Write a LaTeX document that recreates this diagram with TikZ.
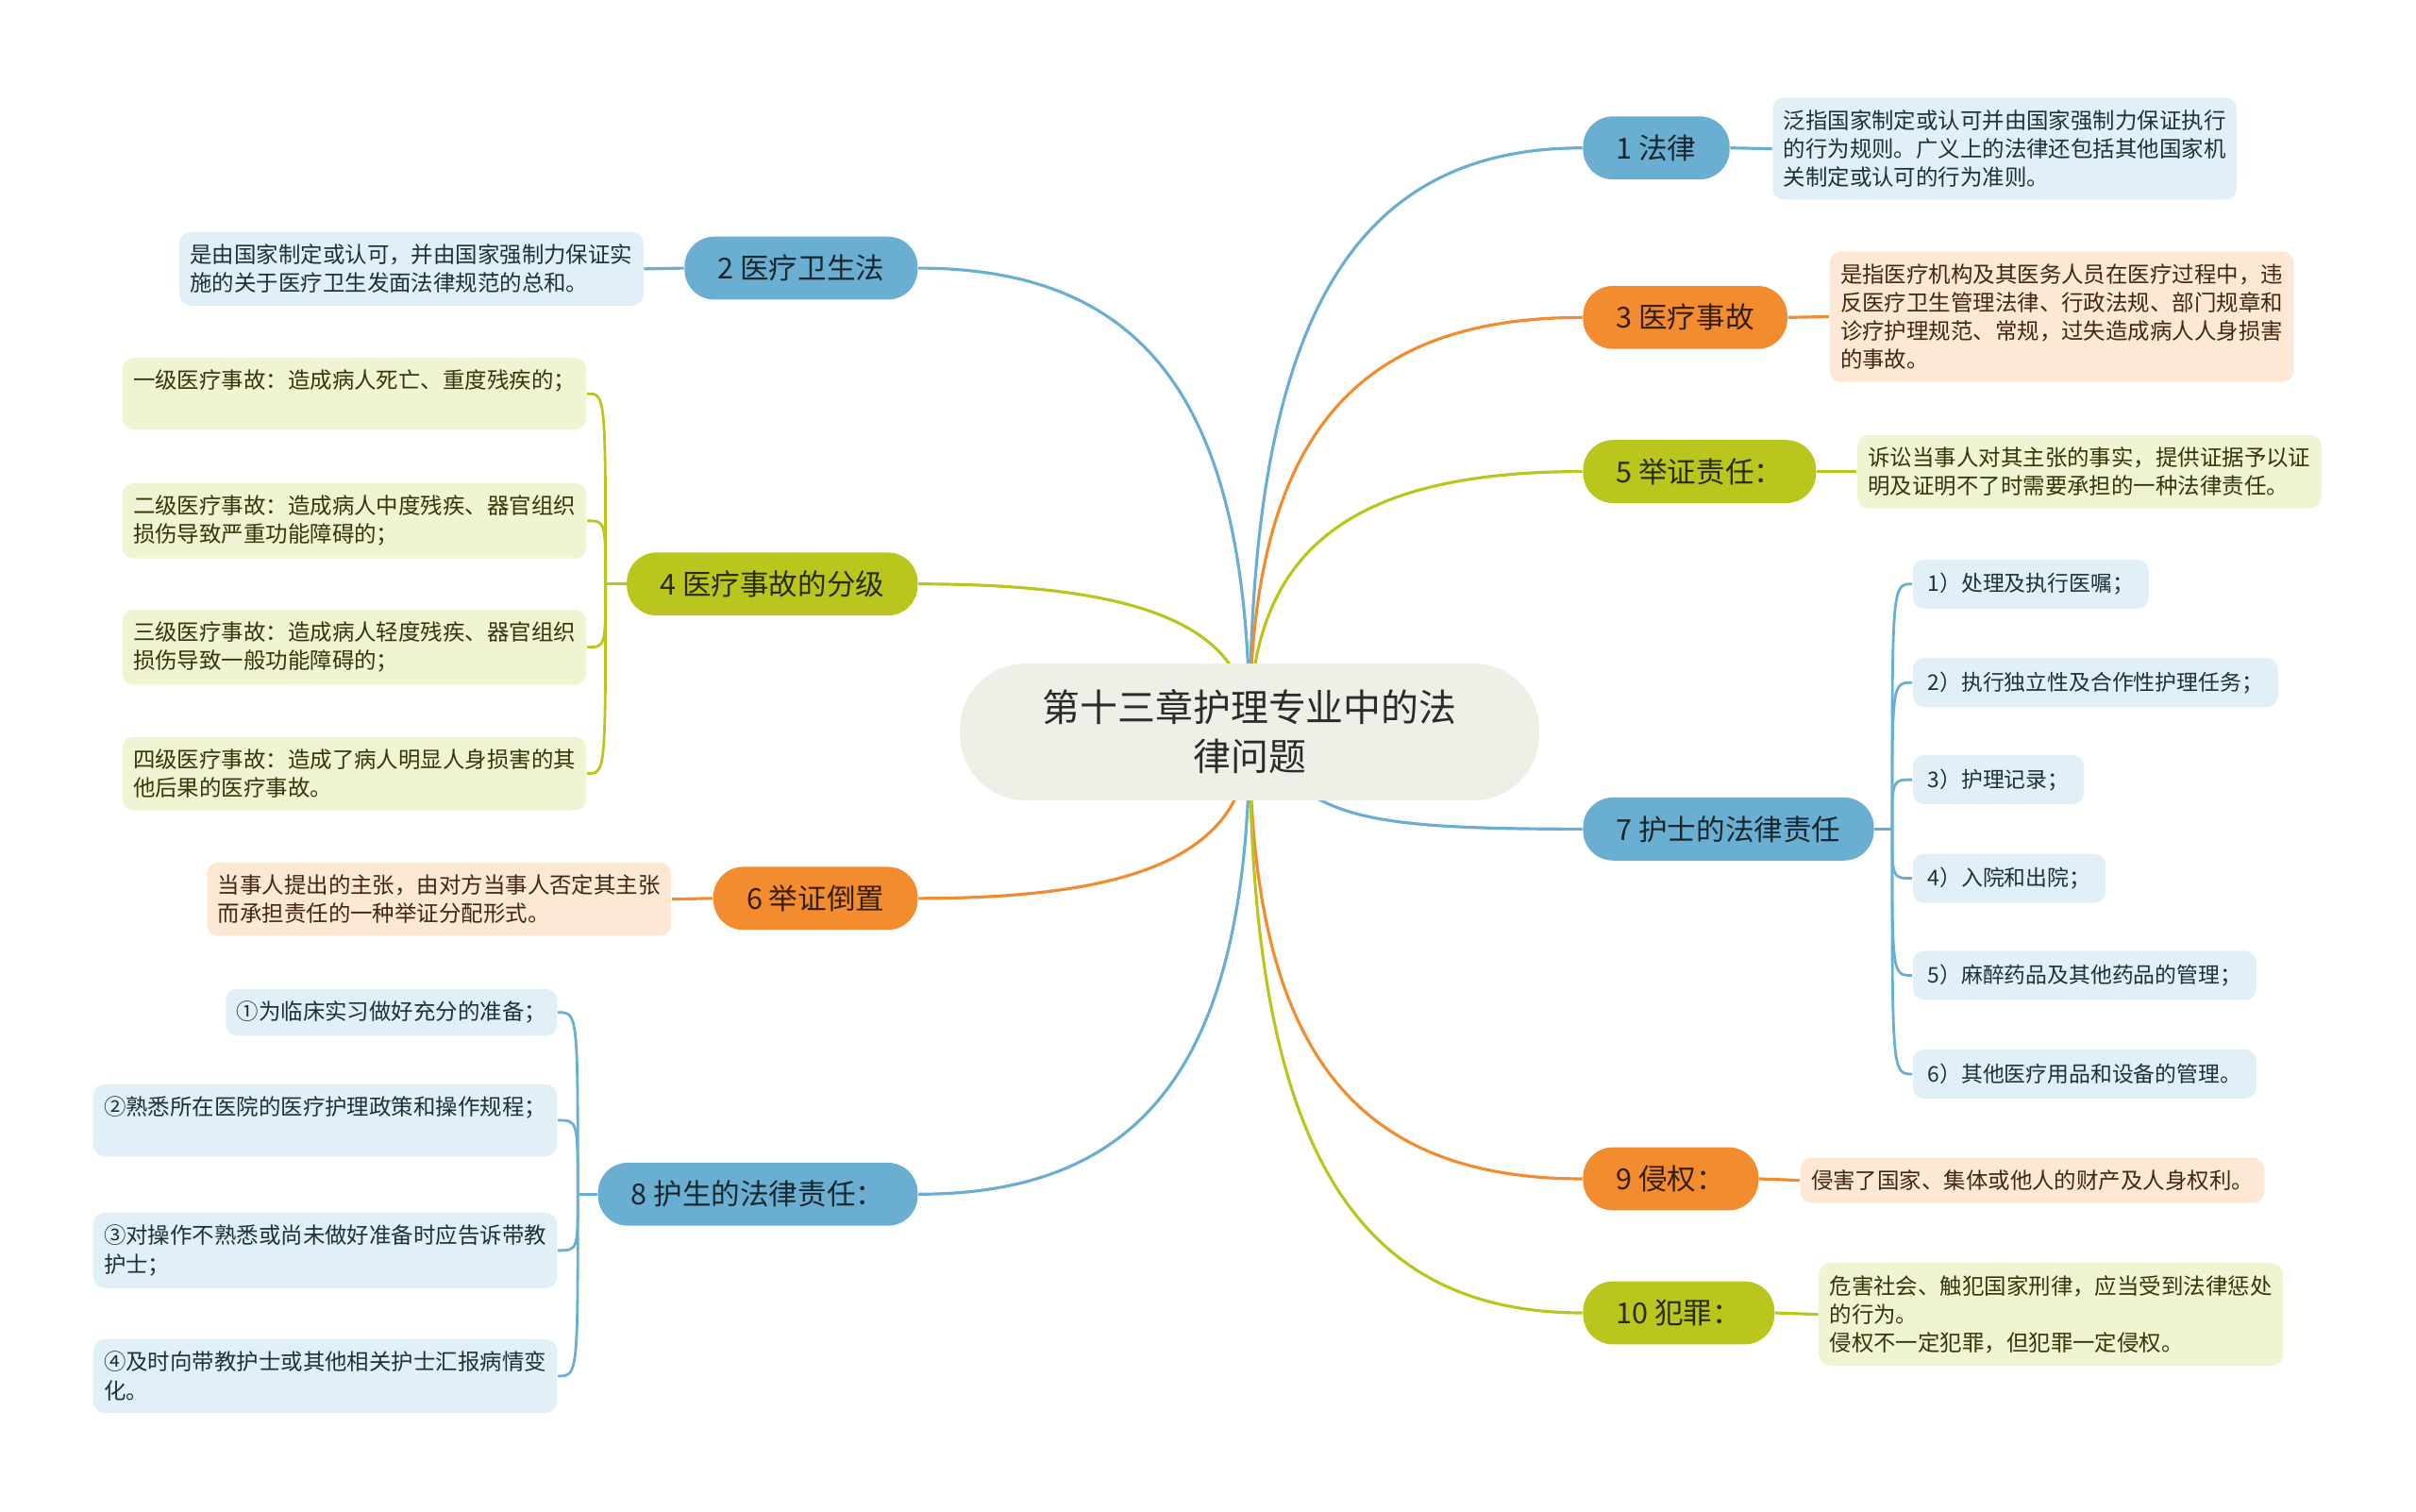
\documentclass[tikz,border=0pt]{standalone}
\usepackage{fontspec}
\setmainfont{Noto Sans CJK SC}
\usetikzlibrary{backgrounds}
\definecolor{sky}{HTML}{6AAFD2}
\definecolor{amber}{HTML}{F28C2E}
\definecolor{lime}{HTML}{BAC61E}
\definecolor{hubfill}{HTML}{EFEFE7}
\definecolor{ink}{HTML}{2B2B2B}
\tikzset{
  hub/.style={fill=hubfill,rounded corners=7mm,minimum width=61.4mm,minimum height=14.5mm,align=center,font=\fontsize{11.35}{14.8}\selectfont,text=ink},
  topic/.style={fill=#1,rounded corners=9pt,minimum height=19pt,inner xsep=10pt,inner ysep=0pt,font=\fontsize{8.7}{10}\selectfont,text=#1!22!black},
  memo/.style={fill=#1!20,rounded corners=1.2mm,inner xsep=3.25pt,inner ysep=3.7pt,align=left,font=\fontsize{6.67}{8.6}\selectfont,text=#1!28!black},
  leaf/.style={fill=#1!20,rounded corners=1.2mm,minimum height=14.8pt,inner xsep=4.5pt,inner ysep=0pt,font=\fontsize{6.5}{8}\selectfont,text=#1!28!black},
  link/.style={draw=#1,line width=0.9pt},
  twig/.style={draw=#1,line width=0.8pt}
}
\begin{document}
\begin{tikzpicture}[x=0.16327mm,y=-0.16327mm]
  \useasboundingbox (0,0) rectangle (1568,981);
  \node[hub] (c) at (811,475) {第十三章护理专业中的法\\律问题};

  \node[topic=sky,anchor=west] (n1) at (1027,96) {1 法律};
  \node[topic=amber,anchor=west] (n3) at (1027,206) {3 医疗事故};
  \node[topic=lime,anchor=west] (n5) at (1027,306) {5 举证责任：};
  \node[topic=sky,anchor=west] (n7) at (1027,538) {7 护士的法律责任};
  \node[topic=amber,anchor=west] (n9) at (1027,765) {9 侵权：};
  \node[topic=lime,anchor=west] (n10) at (1027,852) {10 犯罪：};
  \node[topic=sky,anchor=east] (n2) at (596,174) {2 医疗卫生法};
  \node[topic=lime,anchor=east] (n4) at (596,379) {4 医疗事故的分级};
  \node[topic=amber,anchor=east] (n6) at (596,583) {6 举证倒置};
  \node[topic=sky,anchor=east] (n8) at (596,775) {8 护生的法律责任：};

  \node[memo=sky,anchor=west] (d1) at (1150,96.5) {泛指国家制定或认可并由国家强制力保证执行\\的行为规则。广义上的法律还包括其他国家机\\关制定或认可的行为准则。};
  \node[memo=amber,anchor=west] (d3) at (1187,205.5) {是指医疗机构及其医务人员在医疗过程中，违\\反医疗卫生管理法律、行政法规、部门规章和\\诊疗护理规范、常规，过失造成病人人身损害\\的事故。};
  \node[memo=lime,anchor=west] (d5) at (1205,306) {诉讼当事人对其主张的事实，提供证据予以证\\明及证明不了时需要承担的一种法律责任。};
  \node[memo=amber,anchor=west] (d9) at (1168,766) {侵害了国家、集体或他人的财产及人身权利。};
  \node[memo=lime,anchor=west] (d10) at (1180,853) {危害社会、触犯国家刑律，应当受到法律惩处\\的行为。\\侵权不一定犯罪，但犯罪一定侵权。};
  \node[memo=sky,anchor=east] (d2) at (418,174.5) {是由国家制定或认可，并由国家强制力保证实\\施的关于医疗卫生发面法律规范的总和。};
  \node[memo=amber,anchor=east] (d6) at (436,583.5) {当事人提出的主张，由对方当事人否定其主张\\而承担责任的一种举证分配形式。};

  \node[memo=lime,anchor=east] (g1) at (381,255.5) {一级医疗事故：造成病人死亡、重度残疾的；\\~};
  \node[memo=lime,anchor=east] (g2) at (381,338) {二级医疗事故：造成病人中度残疾、器官组织\\损伤导致严重功能障碍的；};
  \node[memo=lime,anchor=east] (g3) at (381,420) {三级医疗事故：造成病人轻度残疾、器官组织\\损伤导致一般功能障碍的；};
  \node[memo=lime,anchor=east] (g4) at (381,502) {四级医疗事故：造成了病人明显人身损害的其\\他后果的医疗事故。};

  \node[memo=sky,anchor=east] (s1) at (362,657) {①为临床实习做好充分的准备；};
  \node[memo=sky,anchor=east] (s2) at (362,727) {②熟悉所在医院的医疗护理政策和操作规程；\\~};
  \node[memo=sky,anchor=east] (s3) at (362,811.5) {③对操作不熟悉或尚未做好准备时应告诉带教\\护士；};
  \node[memo=sky,anchor=east] (s4) at (362,893) {④及时向带教护士或其他相关护士汇报病情变\\化。};

  \node[leaf=sky,anchor=west] (t1) at (1241,379) {1）处理及执行医嘱；};
  \node[leaf=sky,anchor=west] (t2) at (1241,443) {2）执行独立性及合作性护理任务；};
  \node[leaf=sky,anchor=west] (t3) at (1241,506) {3）护理记录；};
  \node[leaf=sky,anchor=west] (t4) at (1241,570) {4）入院和出院；};
  \node[leaf=sky,anchor=west] (t5) at (1241,633) {5）麻醉药品及其他药品的管理；};
  \node[leaf=sky,anchor=west] (t6) at (1241,697) {6）其他医疗用品和设备的管理。};

  \begin{scope}[on background layer]
    \draw[link=sky] (c.center) .. controls (811,210) and (876,96) .. (n1.west);
    \draw[link=amber] (c.center) .. controls (811,287) and (876,206) .. (n3.west);
    \draw[link=lime] (c.center) .. controls (811,357) and (876,306) .. (n5.west);
    \draw[link=sky] (c.center) .. controls (850,530) and (876,538) .. (n7.west);
    \draw[link=amber] (c.center) .. controls (811,678) and (876,765) .. (n9.west);
    \draw[link=lime] (c.center) .. controls (811,739) and (876,852) .. (n10.west);
    \draw[link=sky] (c.center) .. controls (811,264) and (746,174) .. (n2.east);
    \draw[link=lime] (c.center) .. controls (811,408) and (746,379) .. (n4.east);
    \draw[link=amber] (c.center) .. controls (811,551) and (746,583) .. (n6.east);
    \draw[link=sky] (c.center) .. controls (811,685) and (746,775) .. (n8.east);
  \end{scope}

  \draw[link=sky] (n1.east) -- (d1.west);
  \draw[link=amber] (n3.east) -- (d3.west);
  \draw[link=lime] (n5.east) -- (d5.west);
  \draw[link=amber] (n9.east) -- (d9.west);
  \draw[link=lime] (n10.east) -- (d10.west);
  \draw[link=sky] (n2.west) -- (d2.east);
  \draw[link=amber] (n6.west) -- (d6.east);

  \draw[twig=sky] (n7.east) -- (1228,538) coordinate (j7);
  \foreach \t in {t1,t2,t3,t4,t5,t6}
    \draw[twig=sky] (j7) .. controls (j7 |- \t.west) .. (\t.west);
  \draw[twig=lime] (n4.west) -- (393,379) coordinate (j4);
  \foreach \g in {g1,g2,g3,g4}
    \draw[twig=lime] (j4) .. controls (j4 |- \g.east) .. (\g.east);
  \draw[twig=sky] (n8.west) -- (375,775) coordinate (j8);
  \foreach \s in {s1,s2,s3,s4}
    \draw[twig=sky] (j8) .. controls (j8 |- \s.east) .. (\s.east);
\end{tikzpicture}
\end{document}
